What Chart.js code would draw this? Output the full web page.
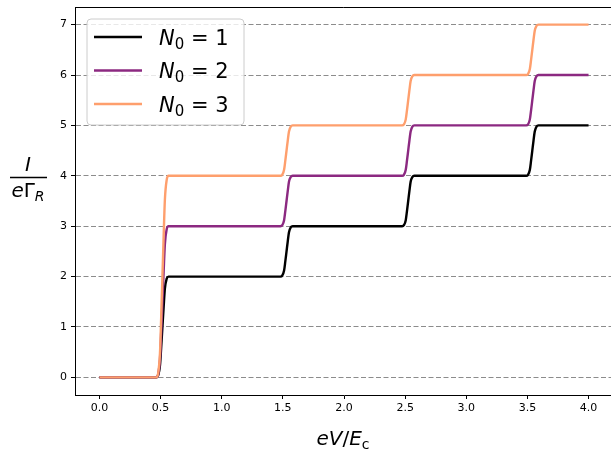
<!DOCTYPE html>
<html>
<head>
<meta charset="utf-8">
<script src="https://cdn.jsdelivr.net/npm/chart.js@4/dist/chart.umd.min.js"></script>
<style>
  html, body { margin: 0; padding: 0; background: #fff; overflow: hidden; }
  #wrap { width: 613px; height: 451px; }
</style>
</head>
<body>
<div id="wrap"><canvas id="staircase"></canvas></div>
<script>
// bias voltage eV/E_c, shared by all three curves (dense around each step)
var voltage = [0,
  0.465, 0.48, 0.495, 0.505, 0.515, 0.525, 0.535, 0.55, 0.565,
  1.48, 1.495, 1.51, 1.52, 1.53, 1.54, 1.55, 1.565, 1.58,
  2.475, 2.49, 2.505, 2.515, 2.525, 2.535, 2.545, 2.56, 2.575,
  3.49, 3.505, 3.52, 3.53, 3.54, 3.55, 3.56, 3.575, 3.59,
  4.0];

// current I / (e Gamma_R) for each N0
var currentN1 = [0,
  0, 0.04, 0.24, 0.6, 1.0, 1.4, 1.76, 1.96, 2,
  2, 2.02, 2.12, 2.3, 2.5, 2.7, 2.88, 2.98, 3,
  3, 3.02, 3.12, 3.3, 3.5, 3.7, 3.88, 3.98, 4,
  4, 4.02, 4.12, 4.3, 4.5, 4.7, 4.88, 4.98, 5,
  5];
var currentN2 = [0,
  0, 0.06, 0.36, 0.9, 1.5, 2.1, 2.64, 2.94, 3,
  3, 3.02, 3.12, 3.3, 3.5, 3.7, 3.88, 3.98, 4,
  4, 4.02, 4.12, 4.3, 4.5, 4.7, 4.88, 4.98, 5,
  5, 5.02, 5.12, 5.3, 5.5, 5.7, 5.88, 5.98, 6,
  6];
var currentN3 = [0,
  0, 0.08, 0.48, 1.2, 2.0, 2.8, 3.52, 3.92, 4,
  4, 4.02, 4.12, 4.3, 4.5, 4.7, 4.88, 4.98, 5,
  5, 5.02, 5.12, 5.3, 5.5, 5.7, 5.88, 5.98, 6,
  6, 6.02, 6.12, 6.3, 6.5, 6.7, 6.88, 6.98, 7,
  7];

var seriesLabels = ["1", "2", "3"];
var seriesColors = ["#000000", "#8c2981", "#fe9f6d"];
var xTicks = [0, 0.5, 1, 1.5, 2, 2.5, 3, 3.5, 4];
var yTicks = [0, 1, 2, 3, 4, 5, 6, 7];

function points(ys) {
  return voltage.map(function (v, i) { return { x: v, y: ys[i] }; });
}

var FONT = "'DejaVu Sans', sans-serif";

// frame, axis titles and mathtext-like legend
var decorations = {
  id: "decorations",
  afterDraw: function (chart) {
    var ctx = chart.ctx;
    var a = chart.chartArea;
    ctx.save();

    // top and right spines
    ctx.strokeStyle = "#000";
    ctx.lineWidth = 1;
    ctx.beginPath();
    ctx.moveTo(a.left, a.top + 0.5);
    ctx.lineTo(a.right - 0.5, a.top + 0.5);
    ctx.lineTo(a.right - 0.5, a.bottom);
    ctx.stroke();

    ctx.fillStyle = "#000";
    ctx.textBaseline = "alphabetic";

    // x title: eV/E_c
    var parts = [
      { t: "eV", f: "italic 20px " + FONT, dy: 0 },
      { t: "/", f: "20px " + FONT, dy: 0 },
      { t: "E", f: "italic 20px " + FONT, dy: 0 },
      { t: "c", f: "14px " + FONT, dy: 4 }
    ];
    var total = 0;
    parts.forEach(function (p) { ctx.font = p.f; p.w = ctx.measureText(p.t).width; total += p.w; });
    var x = 343 - total / 2;
    parts.forEach(function (p) { ctx.font = p.f; ctx.fillText(p.t, x, 445 + p.dy); x += p.w; });

    // y title: I / (e Gamma_R)
    var cx = 28;
    ctx.font = "italic 20px " + FONT;
    ctx.textAlign = "center";
    ctx.fillText("I", cx, 171);
    ctx.textAlign = "left";
    ctx.lineWidth = 1.5;
    ctx.beginPath();
    ctx.moveTo(10, 177.5);
    ctx.lineTo(47, 177.5);
    ctx.stroke();
    var den = [
      { t: "e", f: "italic 20px " + FONT, dy: 0 },
      { t: "\u0393", f: "20px " + FONT, dy: 0 },
      { t: "R", f: "italic 14px " + FONT, dy: 4 }
    ];
    total = 0;
    den.forEach(function (p) { ctx.font = p.f; p.w = ctx.measureText(p.t).width; total += p.w; });
    x = cx - total / 2;
    den.forEach(function (p) { ctx.font = p.f; ctx.fillText(p.t, x, 197 + p.dy); x += p.w; });

    // legend box
    var bx = 87, by = 19, bw = 157, bh = 106, r = 4;
    ctx.beginPath();
    ctx.moveTo(bx + r, by);
    ctx.arcTo(bx + bw, by, bx + bw, by + bh, r);
    ctx.arcTo(bx + bw, by + bh, bx, by + bh, r);
    ctx.arcTo(bx, by + bh, bx, by, r);
    ctx.arcTo(bx, by, bx + bw, by, r);
    ctx.closePath();
    ctx.fillStyle = "rgba(255,255,255,0.8)";
    ctx.fill();
    ctx.strokeStyle = "#cccccc";
    ctx.lineWidth = 1;
    ctx.stroke();

    var rows = [37, 70.5, 104];
    seriesLabels.forEach(function (lab, i) {
      var yy = rows[i];
      ctx.strokeStyle = seriesColors[i];
      ctx.lineWidth = 2.4;
      ctx.beginPath();
      ctx.moveTo(94, yy);
      ctx.lineTo(142, yy);
      ctx.stroke();
      ctx.fillStyle = "#000";
      var tx = 159, base = yy + 7.5;
      ctx.font = "italic 21px " + FONT;
      ctx.fillText("N", tx, base);
      tx += ctx.measureText("N").width;
      ctx.font = "15px " + FONT;
      ctx.fillText("0", tx, base + 4);
      tx += ctx.measureText("0").width;
      ctx.font = "21px " + FONT;
      ctx.fillText(" = " + lab, tx, base);
    });

    ctx.restore();
  }
};

var ctx = document.getElementById("staircase");

var chart = new Chart(ctx, {
  type: "line",
  data: {
    datasets: [
      { label: "N0 = 1", data: points(currentN1), borderColor: seriesColors[0], order: 2 },
      { label: "N0 = 2", data: points(currentN2), borderColor: seriesColors[1], order: 1 },
      { label: "N0 = 3", data: points(currentN3), borderColor: seriesColors[2], order: 0 }
    ]
  },
  options: {
    responsive: true,
    maintainAspectRatio: false,
    animation: false,
    layout: { padding: { left: 0, right: 0, top: 7, bottom: 0 } },
    elements: {
      line: { borderWidth: 2.4, cubicInterpolationMode: "monotone", fill: false },
      point: { radius: 0, hoverRadius: 0 }
    },
    plugins: {
      legend: { display: false },
      tooltip: { enabled: false }
    },
    scales: {
      x: {
        type: "linear",
        min: -0.2,
        max: 4.2,
        afterBuildTicks: function (scale) {
          scale.ticks = xTicks.map(function (v) { return { value: v }; });
        },
        afterFit: function (scale) {
          scale.height = 56;
          scale.paddingLeft = 0;
          scale.paddingRight = 0;
        },
        ticks: {
          color: "#000",
          font: { family: FONT, size: 11 },
          padding: 3,
          maxRotation: 0,
          callback: function (v) { return Number(v).toFixed(1); }
        },
        grid: { drawOnChartArea: false, tickLength: 4, tickColor: "#000" },
        border: { color: "#000", width: 1 }
      },
      y: {
        type: "linear",
        min: -0.35,
        max: 7.35,
        afterBuildTicks: function (scale) {
          scale.ticks = yTicks.map(function (v) { return { value: v }; });
        },
        afterFit: function (scale) {
          scale.width = 75;
          scale.paddingTop = 0;
          scale.paddingBottom = 0;
        },
        ticks: {
          color: "#000",
          font: { family: FONT, size: 11 },
          padding: 4,
          callback: function (v) { return String(v); }
        },
        grid: {
          color: "#8c8c8c",
          lineWidth: 1,
          tickLength: 4,
          tickColor: "#000",
          tickBorderDash: []
        },
        border: { color: "#000", width: 1, dash: [5, 2.5] }
      }
    }
  },
  plugins: [decorations]
});
</script>
</body>
</html>
